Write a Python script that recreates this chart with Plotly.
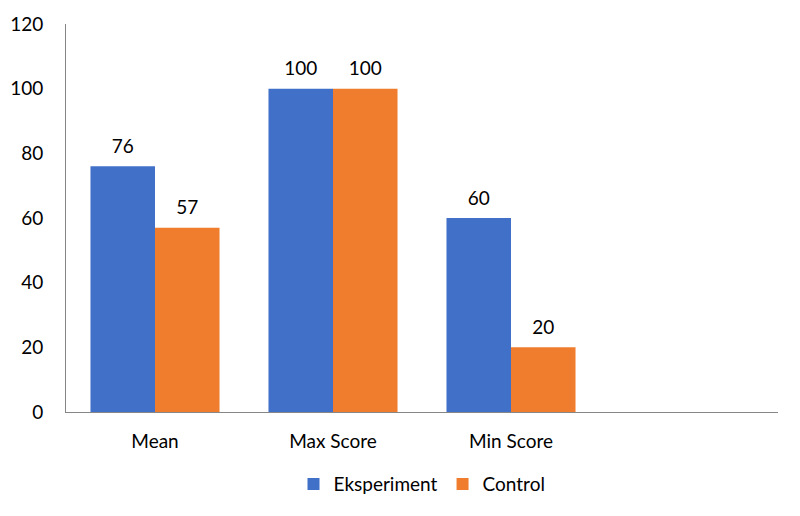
import plotly.graph_objects as go

# categories and values
categories = ["Mean", "Max Score", "Min Score"]
eksperiment = [76, 100, 60]
control = [57, 100, 20]
y_ticks = [0, 20, 40, 60, 80, 100, 120]

font_family = "Lato"
gap = 0.275

fig = go.Figure()
fig.add_trace(go.Bar(x=categories, y=eksperiment, name="Eksperiment",
                     marker=dict(color="#4170C8", line=dict(width=0))))
fig.add_trace(go.Bar(x=categories, y=control, name="Control",
                     marker=dict(color="#F07D2E", line=dict(width=0))))

# data labels, grouped the same way as the bars
for vals in (eksperiment, control):
    fig.add_trace(go.Scatter(
        x=categories, y=vals, mode="markers+text", text=vals,
        textposition="top center", showlegend=False, hoverinfo="skip",
        marker=dict(size=12, opacity=0), cliponaxis=False,
        textfont=dict(size=19, color="black", family=font_family),
    ))

fig.update_layout(
    width=800, height=516,
    margin=dict(l=58, r=30, t=16, b=112, autoexpand=False),
    plot_bgcolor="white", paper_bgcolor="white",
    font=dict(family=font_family, size=19, color="black"),
    barmode="group", bargap=gap, bargroupgap=0,
    scattermode="group", scattergap=gap,
    showlegend=True,
    legend=dict(orientation="h", x=0.5, xanchor="center", y=-0.186, yanchor="middle",
                font=dict(size=19), itemwidth=30, traceorder="normal"),
    xaxis=dict(type="category", range=[-0.5, 3.5], showline=True, linecolor="#868686",
               linewidth=1, ticks="", showgrid=False, ticklabelstandoff=12, automargin=False),
    yaxis=dict(range=[0, 120], tickvals=y_ticks, showline=True, linecolor="#868686",
               linewidth=1, ticks="", showgrid=False, zeroline=False, ticklabelstandoff=18,
               automargin=False),
)

fig.write_html("out.html")
